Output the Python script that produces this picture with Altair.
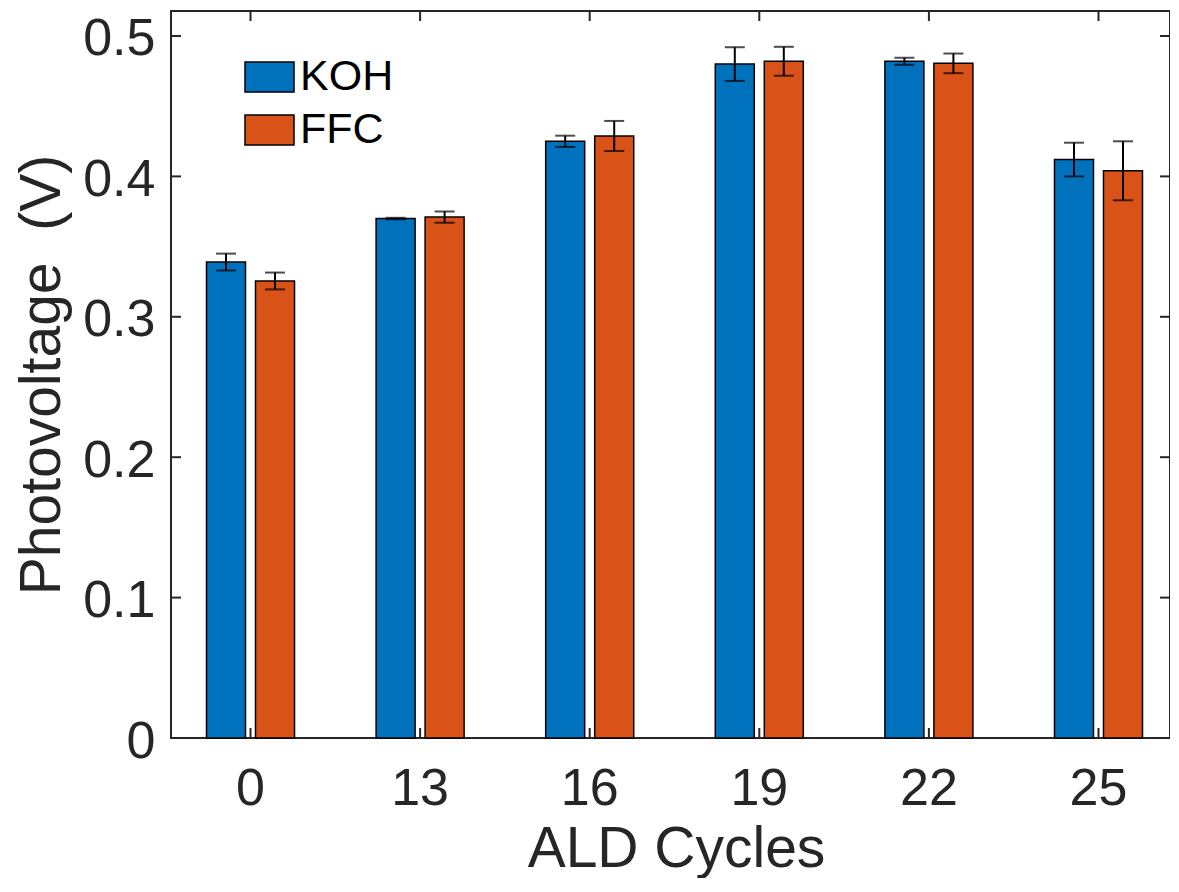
import altair as alt
import pandas as pd

cycles = ["0", "13", "16", "19", "22", "25"]
groups = ["KOH", "FFC"]
koh = [0.339, 0.370, 0.425, 0.480, 0.482, 0.412]
ffc = [0.3255, 0.371, 0.4288, 0.482, 0.4805, 0.404]
koh_err = [0.006, 0.0005, 0.004, 0.012, 0.0025, 0.012]
ffc_err = [0.006, 0.004, 0.0107, 0.0103, 0.007, 0.021]
yticks = [0, 0.1, 0.2, 0.3, 0.4, 0.5]

rows = []
for c, v, e in zip(cycles, koh, koh_err):
    rows.append({"cycle": c, "group": "KOH", "v": v, "lo": v - e, "hi": v + e})
for c, v, e in zip(cycles, ffc, ffc_err):
    rows.append({"cycle": c, "group": "FFC", "v": v, "lo": v - e, "hi": v + e})
df = pd.DataFrame(rows)
tick_df = pd.DataFrame({"yt": yticks})
cyc_df = pd.DataFrame({"cycle": cycles})

W, H = 999, 727
XR = 1007  # band range extends a little past the visible frame, as in the original
FONT = "Liberation Sans"
AX = "#262626"

xscale = alt.Scale(range=[0, XR], paddingInner=0.481, paddingOuter=0.2093)
yscale = alt.Scale(domain=[0, 0.5178], nice=False, zero=True)
xoff = alt.XOffset("group:N", sort=groups, scale=alt.Scale(paddingInner=0.204, paddingOuter=0))

x_axis = alt.Axis(
    title="ALD Cycles", labelAngle=0, labelFontSize=52, labelPadding=25, ticks=False,
    domain=False, grid=False, labelFont=FONT, titleFont=FONT, titleFontSize=57,
    titleFontWeight="normal", labelColor=AX, titleColor=AX, titleY=128,
    titleX=505, titleBaseline="alphabetic",
)
y_axis = alt.Axis(
    title="Photovoltage\u00a0\u00a0(V)", values=yticks, format="~g", labelFontSize=52,
    labelPadding=16, labelOffset=3, ticks=False, domain=False, grid=False, labelFont=FONT,
    titleFont=FONT, titleFontSize=57, titleFontWeight="normal", labelColor=AX,
    titleColor=AX, titleX=-112, titleY=H / 2, titleBaseline="alphabetic", titleAngle=-90,
)


def X():
    return alt.X("cycle:N", sort=cycles, scale=xscale, axis=x_axis)


def Y(field):
    return alt.Y(field, scale=yscale, axis=y_axis)


bars = alt.Chart(df).mark_bar(stroke="black", strokeWidth=1.5).encode(
    x=X(),
    xOffset=xoff,
    y=Y("v:Q"),
    color=alt.Color(
        "group:N", sort=groups,
        scale=alt.Scale(domain=groups, range=["#0072BD", "#D95319"]),
        legend=alt.Legend(
            title=None, orient="none", legendX=73, legendY=40.5, padding=0,
            symbolType="M-1,-0.612L1,-0.612L1,0.612L-1,0.612Z", symbolSize=2401,
            symbolStrokeColor="black", symbolStrokeWidth=1.5, symbolOpacity=1,
            labelFontSize=43, labelFont=FONT, labelColor="black", labelOffset=5,
            rowPadding=5,
        ),
    ),
)

errs = alt.Chart(df).mark_rule(color="black", strokeWidth=2).encode(
    x=X(), xOffset=xoff, y=Y("lo:Q"), y2="hi:Q",
)
caps_lo = alt.Chart(df).mark_tick(color="black", thickness=2, size=20).encode(
    x=X(), xOffset=xoff, y=Y("lo:Q"),
)
caps_hi = alt.Chart(df).mark_tick(color="black", thickness=2, size=20).encode(
    x=X(), xOffset=xoff, y=Y("hi:Q"),
)

lt = alt.Chart(tick_df).mark_rule(color=AX, strokeWidth=2).encode(
    y=Y("yt:Q"), x=alt.value(0), x2=alt.value(10)
)
rt = alt.Chart(tick_df).mark_rule(color=AX, strokeWidth=2).encode(
    y=Y("yt:Q"), x=alt.value(W - 10), x2=alt.value(W)
)
bt = alt.Chart(cyc_df).mark_rule(color=AX, strokeWidth=2).encode(
    x=X(), y=alt.value(H), y2=alt.value(H - 10)
)
tt = alt.Chart(cyc_df).mark_rule(color=AX, strokeWidth=2).encode(
    x=X(), y=alt.value(0), y2=alt.value(10)
)

chart = alt.layer(bars, lt, rt, bt, tt, errs, caps_lo, caps_hi).properties(
    width=W, height=H,
    autosize=alt.AutoSizeParams(type="none"),
    padding={"left": 163, "top": 3, "right": 0, "bottom": 140},
    background="white",
).configure_view(stroke=AX, strokeWidth=2)

chart.save("out.html", embed_options={"renderer": "svg", "actions": False})
